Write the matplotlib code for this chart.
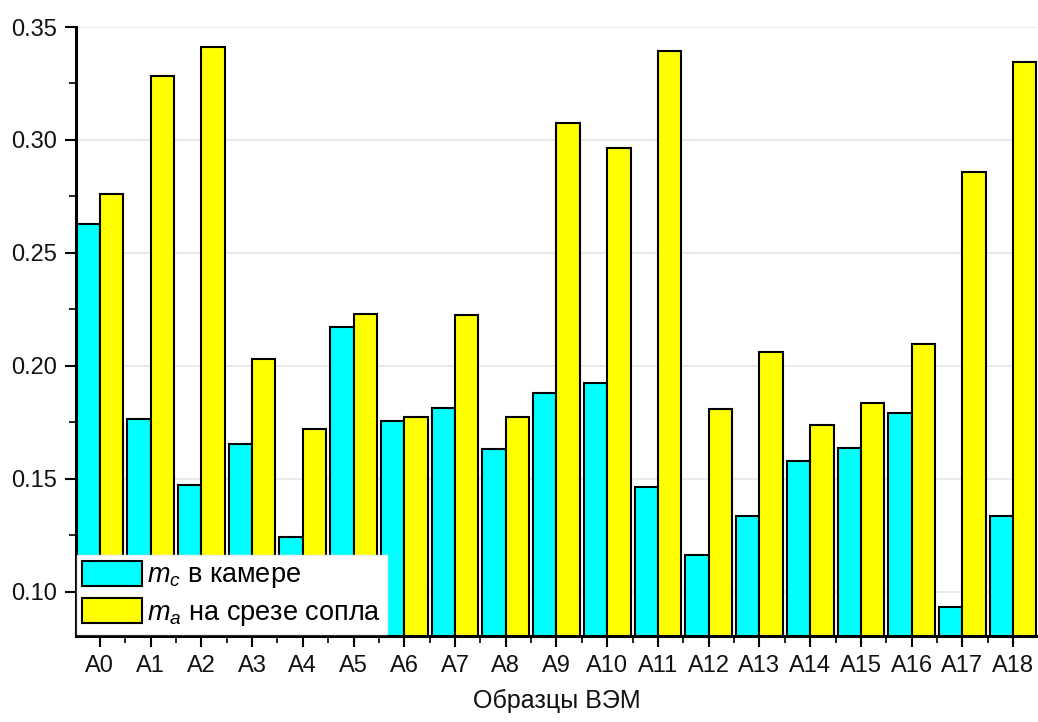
import matplotlib
matplotlib.use("Agg")
import matplotlib.pyplot as plt
import numpy as np
from matplotlib.ticker import MultipleLocator
from matplotlib.patches import Patch

plt.rcParams['font.family'] = ['Liberation Sans', 'DejaVu Sans']
plt.rcParams['mathtext.fontset'] = 'custom'
plt.rcParams['mathtext.it'] = 'Liberation Sans:italic'
plt.rcParams['mathtext.rm'] = 'Liberation Sans'

categories = [f"A{i}" for i in range(19)]
m_c = [0.2628, 0.1766, 0.1473, 0.1655, 0.1245, 0.2174, 0.1758, 0.1814, 0.1634, 0.1879,
       0.1926, 0.1463, 0.1164, 0.1336, 0.1578, 0.1636, 0.1791, 0.0935, 0.1336]
m_a = [0.2761, 0.3285, 0.3413, 0.2030, 0.1720, 0.2229, 0.1773, 0.2224, 0.1773, 0.3077,
       0.2963, 0.3395, 0.1810, 0.2061, 0.1740, 0.1835, 0.2096, 0.2858, 0.3345]
labels = [r"$m_c$ в камере", r"$m_a$ на срезе сопла"]
xlabel = "Образцы ВЭМ"

fig = plt.figure(figsize=(10.38, 7.22), dpi=100)
ax = fig.add_axes([0.0732, 0.1191, 0.9258, 0.8435])

x = np.arange(len(categories))
w = 0.46
ax.bar(x - w/2, m_c, width=w, color='#00FFFF', edgecolor='black', linewidth=1.5, zorder=3)
ax.bar(x + w/2, m_a, width=w, color='#FFFF00', edgecolor='black', linewidth=1.5, zorder=3)

ax.set_xlim(-0.47, 18.47)
ax.set_ylim(0.0805, 0.35)

ax.set_xticks(x)
ax.set_xticklabels(categories)
ax.xaxis.set_minor_locator(MultipleLocator(1.0, offset=0.5))
ax.yaxis.set_major_locator(MultipleLocator(0.05))
ax.yaxis.set_minor_locator(MultipleLocator(0.025))
ax.yaxis.set_major_formatter(matplotlib.ticker.FormatStrFormatter('%.2f'))

ax.tick_params(axis='both', which='major', direction='out', length=8, width=1.5,
               labelsize=17, pad=6, colors='black', labelcolor='#111111')
ax.tick_params(axis='both', which='minor', direction='out', length=5, width=1.2)

ax.grid(axis='y', which='major', color='#e6e6e6', linewidth=1.2, zorder=0)
ax.set_axisbelow(True)

for s in ['top', 'right']:
    ax.spines[s].set_visible(False)
ax.spines['left'].set_linewidth(2.2)
ax.spines['bottom'].set_linewidth(2.2)
ax.spines['left'].set_zorder(5)
ax.spines['bottom'].set_zorder(5)

ax.set_xlabel(xlabel, fontsize=18, labelpad=8, color='#111111')

handles = [Patch(facecolor='#00FFFF', edgecolor='black', linewidth=1.5),
           Patch(facecolor='#FFFF00', edgecolor='black', linewidth=1.5)]
leg = ax.legend(handles, labels, loc='lower left', bbox_to_anchor=(0.001, 0.004),
                fontsize=19.5, frameon=True, fancybox=False, framealpha=1,
                edgecolor='#eeeeee', handlelength=2.2, handleheight=1.04,
                handletextpad=0.2, borderpad=0.2, labelspacing=0.3,
                borderaxespad=0.0)
leg.get_frame().set_linewidth(1.0)
leg.set_zorder(10)

fig.savefig("out.png", dpi=100)
